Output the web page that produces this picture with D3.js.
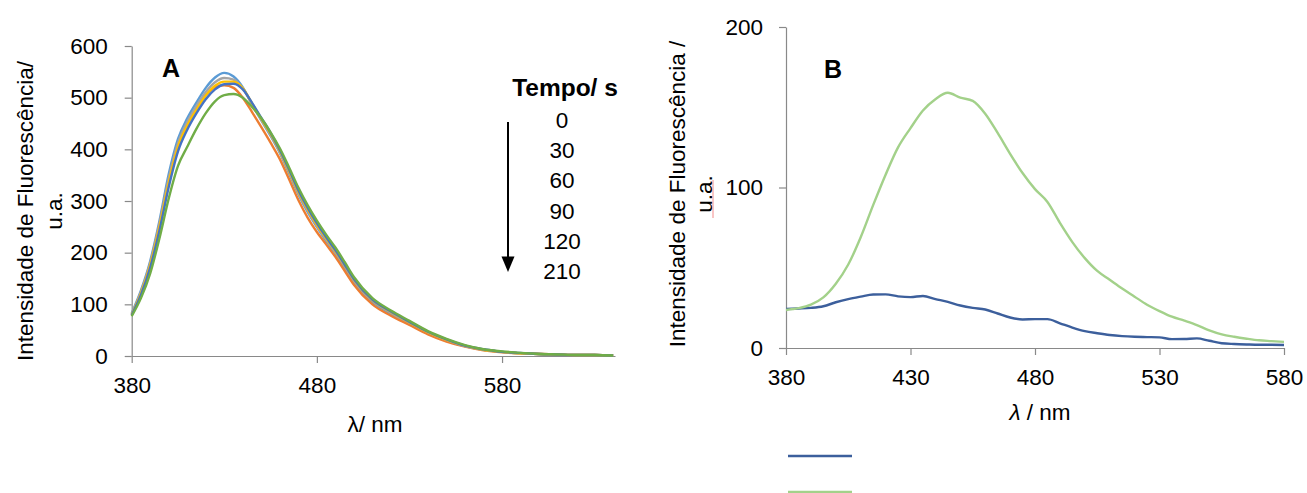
<!DOCTYPE html>
<html>
<head>
<meta charset="utf-8">
<script src="https://cdn.jsdelivr.net/npm/d3@7"></script>
<style>
  html, body { margin: 0; padding: 0; background: #fff; }
  svg { display: block; font-family: "Liberation Sans", Arial, sans-serif; }
  .axis path, .axis line { stroke: #898989; stroke-width: 1.2; }
  .axis text { fill: #000; font-size: 22px; font-family: "Liberation Sans", Arial, sans-serif; }
</style>
</head>
<body>
<svg id="chart" width="1307" height="493"></svg>
<script>
// ---------- Panel A: emission spectra over time ----------
const lambdaA = [380,385,390,395,400,405,410,415,420,425,430,435,440,445,450,455,460,465,470,475,480,485,490,495,500,
                 510,520,530,540,550,560,570,580,590,600,610,620,630,640];
const tempoLabels = ["0", "30", "60", "90", "120", "210"];
const int0s   = [83,127,184,262,352,420,460,491,519,539,548,541,520,487,456,426,393,353,313,279,250,223,199,171,143,105,82,64,45,30,19,12,8,5,4,3,2,2,1];
const int30s  = [80,122,178,254,340,410,450,480,505,520,524,519,500,472,443,413,381,342,302,268,240,216,192,165,138,100,78,60,42,28,18,11,7,5,4,3,2,2,1];
const int60s  = [81,124,180,256,343,412,453,484,511,530,538,535,518,487,457,428,395,356,316,282,252,226,201,174,146,107,84,65,46,31,19,12,8,5,4,3,2,2,1];
const int90s  = [80,121,176,250,336,405,446,477,504,523,531,531,518,489,459,430,397,358,318,284,254,228,203,176,148,108,85,65,46,31,20,12,8,5,4,3,2,2,1];
const int120s = [79,118,171,243,327,396,438,470,497,516,526,527,516,490,461,432,399,361,321,287,257,230,205,177,149,109,86,66,47,32,20,13,8,6,4,3,2,2,1];
const int210s = [77,112,160,228,305,368,405,440,470,493,505,507,500,482,460,433,402,365,326,292,262,235,210,182,153,112,88,68,48,33,21,13,9,6,4,3,2,2,1];
const coloursA = ["#5B9BD5", "#ED7D31", "#A5A5A5", "#FFC000", "#4472C4", "#70AD47"];
const xTicksA = [380, 480, 580];
const yTicksA = [0, 100, 200, 300, 400, 500, 600];

// ---------- Panel B: two spectra ----------
const lambdaB = [380,385,390,395,400,405,410,415,420,425,430,435,440,445,450,455,460,465,470,475,480,
                 485,490,495,500,505,510,515,520,525,530,535,540,545,550,555,560,565,570,575,580];
const intBlue  = [24.3,24.6,25,26,28.5,30.5,32,33.3,33.4,32.2,31.7,32.4,30.5,28.7,26.5,25,24,21.5,19,17.8,18,
                  18,15.4,12.7,10.5,9.2,8.1,7.4,7,6.8,6.6,5.5,5.6,6,4.5,3,2.5,2.2,2,2,1.9];
const intGreen = [23.7,24.8,27,31.5,40,52,69,89,108,125,137,148,155,159,156,154,146,134,121,109,99,
                  91,78,66,56,48,42.5,37,32,27,23,19.5,17,14.3,11,8.5,7,5.8,4.8,4.3,3.8];
const coloursB = ["#3c5f9c", "#a3d18a"];
const xTicksB = [380, 430, 480, 530, 580];
const yTicksB = [0, 100, 200];

const svg = d3.select("#chart");
svg.append("rect").attr("width", 1307).attr("height", 493).attr("fill", "#fff");

const FONT = 22.5;

// ===== Panel A =====
const xA = d3.scaleLinear().domain([380, 641]).range([131.7, 615]);
const yA = d3.scaleLinear().domain([0, 600]).range([356, 46]);

svg.append("g").attr("class", "axis")
  .attr("transform", `translate(0,${yA(0)})`)
  .call(d3.axisBottom(xA).tickValues(xTicksA).tickSize(7).tickSizeOuter(0).tickPadding(14).tickFormat(d3.format("d")))
  .selectAll("text").style("font-size", FONT + "px");

svg.append("g").attr("class", "axis")
  .attr("transform", `translate(${xA(380)},0)`)
  .call(d3.axisLeft(yA).tickValues(yTicksA).tickSize(7).tickSizeOuter(0).tickPadding(17).tickFormat(d3.format("d")))
  .selectAll("text").style("font-size", FONT + "px");

const seriesA = [int0s, int30s, int60s, int90s, int120s, int210s];
const lineA = d3.line().x((d, i) => xA(lambdaA[i])).y(d => yA(d)).curve(d3.curveMonotoneX);
svg.append("g").selectAll("path").data(seriesA).join("path")
  .attr("d", d => lineA(d))
  .attr("fill", "none")
  .attr("stroke", (d, i) => coloursA[i])
  .attr("stroke-width", 2.4)
  .attr("stroke-linejoin", "round");

// Y title A
const yTitleA = svg.append("text")
  .attr("transform", "translate(33,211) rotate(-90)")
  .attr("text-anchor", "middle")
  .style("font-size", FONT + "px");
yTitleA.append("tspan").attr("x", 0).attr("y", 0).text("Intensidade de Fluorescência/");
yTitleA.append("tspan").attr("x", 0).attr("y", 29).text("u.a.");

// X title A
svg.append("text").attr("x", 375).attr("y", 432).attr("text-anchor", "middle")
  .style("font-size", FONT + "px").text("λ/ nm");

// Panel letter A
svg.append("text").attr("x", 162).attr("y", 77).style("font-size", "25px").style("font-weight", "bold").text("A");

// Time legend
svg.append("text").attr("x", 565).attr("y", 96).attr("text-anchor", "middle")
  .style("font-size", "24.5px").style("font-weight", "bold").text("Tempo/ s");
svg.append("g").selectAll("text").data(tempoLabels).join("text")
  .attr("x", 562).attr("y", (d, i) => 128 + i * 30.2)
  .attr("text-anchor", "middle").style("font-size", FONT + "px").text(d => d);
svg.append("line").attr("x1", 508).attr("x2", 508).attr("y1", 122).attr("y2", 258)
  .attr("stroke", "#000").attr("stroke-width", 2);
svg.append("path").attr("d", "M501.5,256.5 L514.5,256.5 L508,272 Z").attr("fill", "#000");

// ===== Panel B =====
const xB = d3.scaleLinear().domain([380, 580]).range([786, 1284]);
const yB = d3.scaleLinear().domain([0, 200]).range([348, 27]);

svg.append("g").attr("class", "axis")
  .attr("transform", `translate(0,${yB(0)})`)
  .call(d3.axisBottom(xB).tickValues(xTicksB).tickSize(7).tickSizeOuter(0).tickPadding(14).tickFormat(d3.format("d")))
  .selectAll("text").style("font-size", FONT + "px");

svg.append("g").attr("class", "axis")
  .attr("transform", `translate(${xB(380)},0)`)
  .call(d3.axisLeft(yB).tickValues(yTicksB).tickSize(7).tickSizeOuter(0).tickPadding(16).tickFormat(d3.format("d")))
  .selectAll("text").style("font-size", FONT + "px");

const seriesB = [intBlue, intGreen];
const lineB = d3.line().x((d, i) => xB(lambdaB[i])).y(d => yB(d)).curve(d3.curveMonotoneX);
svg.append("g").selectAll("path").data(seriesB).join("path")
  .attr("d", d => lineB(d))
  .attr("fill", "none")
  .attr("stroke", (d, i) => coloursB[i])
  .attr("stroke-width", 2.4)
  .attr("stroke-linejoin", "round");

// Y title B
const yTitleB = svg.append("text")
  .attr("transform", "translate(685,194) rotate(-90)")
  .attr("text-anchor", "middle")
  .style("font-size", FONT + "px");
yTitleB.append("tspan").attr("x", 0).attr("y", 0).text("Intensidade de Fluorescência /");
yTitleB.append("tspan").attr("x", 0).attr("y", 27).text("u.a.");
// proofing underline beneath "u.a."
svg.append("line").attr("x1", 713).attr("x2", 713).attr("y1", 180).attr("y2", 218)
  .attr("stroke", "#f07070").attr("stroke-width", 0.8);

// X title B
const xTitleB = svg.append("text").attr("x", 1040).attr("y", 420).attr("text-anchor", "middle")
  .style("font-size", FONT + "px");
xTitleB.append("tspan").style("font-style", "italic").text("λ");
xTitleB.append("tspan").text(" / nm");

// Panel letter B
svg.append("text").attr("x", 824).attr("y", 78).style("font-size", "25px").style("font-weight", "bold").text("B");

// Series key swatches
svg.append("g").selectAll("line").data(coloursB).join("line")
  .attr("x1", 788).attr("x2", 852)
  .attr("y1", (d, i) => 456 + i * 36).attr("y2", (d, i) => 456 + i * 36)
  .attr("stroke", d => d).attr("stroke-width", 2.5);
</script>
</body>
</html>
